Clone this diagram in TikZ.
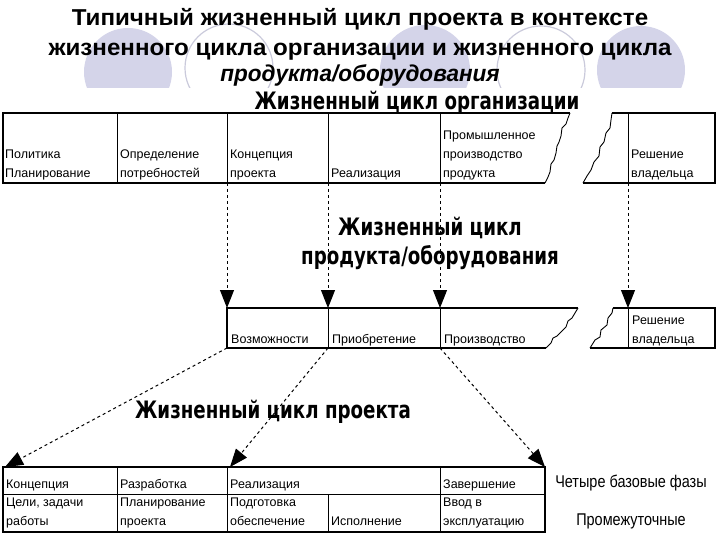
\documentclass[tikz,border=0pt]{standalone}
\usepackage{fontspec}
\setmainfont{Liberation Sans}
\newfontfamily\heavyfont{DejaVu Sans}
\usepackage{graphicx}
\usetikzlibrary{arrows.meta}

\definecolor{lavfill}{HTML}{D4D4E9}
\definecolor{lavline}{HTML}{CACADB}

\newcommand{\narrowtxt}[2][0.8]{\scalebox{#1}[1]{#2}}

\tikzset{
  title/.style={anchor=base, inner sep=0pt, font=\fontsize{23}{26}\bfseries\selectfont},
  hdr/.style={anchor=base, inner sep=0pt, font=\heavyfont\fontsize{24}{28}\bfseries\selectfont},
  cell/.style={anchor=base west, inner sep=0pt, font=\fontsize{12.5}{15}\selectfont},
  note/.style={anchor=base, inner sep=0pt, font=\fontsize{17}{20}\selectfont},
  tabline/.style={line width=1.6pt},
  tabdiv/.style={line width=0.9pt},
  link/.style={dash pattern=on 3pt off 3pt, line width=1pt, -{Triangle[length=18pt,width=14pt]}},
}

\begin{document}
\begin{tikzpicture}[x=1pt,y=-1pt]
	\useasboundingbox (0,0) rectangle (720,540);

	% Circles behind the title, cut where the figure starts
	\begin{scope}
		\clip (0,0) rectangle (720,88);
		\fill[lavfill] (128,72) circle (44);
		\fill[lavfill] (425,70) circle (45);
		\fill[lavfill] (641,70) circle (44);
		\draw[lavline, line width=1.2pt] (229,68) circle (44);
		\draw[lavline, line width=1.2pt] (541,70) circle (44);
	\end{scope}

	% Title
	\node[title] (t1) at (360,26) {\narrowtxt[1.05]{Типичный жизненный цикл проекта в контексте}};
	\node[title] (t2) at (360,56) {\narrowtxt[1.05]{жизненного цикла организации и жизненного цикла}};
	\node[title] (t3) at (360,82) {\narrowtxt[0.98]{\itshape продукта/оборудования}};

	% Organisation life cycle
	\node[hdr] (horg) at (417,110) {\narrowtxt[0.76]{Жизненный цикл организации}};

	\draw[tabline] (570,113) -- (3,113) -- (3,183) -- (545,183);
	\draw[tabdiv] (570,113) -- (568,118) -- (566,124) -- (562,128) -- (561,136) -- (559,142) -- (557,146)
		-- (556,153) -- (554,160) -- (551,164) -- (550,172) -- (548,177) -- (545,183);
	\foreach \x in {117,227,328,440}
		\draw[tabdiv] (\x,113) -- (\x,183);
	\draw[tabline] (612,113) -- (715,113) -- (715,183) -- (583,183);
	\draw[tabdiv] (612,113) -- (611,120) -- (610,128) -- (606,133) -- (604,142) -- (600,147) -- (599,156)
		-- (594,162) -- (591,170) -- (587,176) -- (583,183);
	\draw[tabdiv] (628,113) -- (628,183);

	\node[cell] (o1a) at (5,159) {Политика};
	\node[cell] (o1b) at (5,178) {Планирование};
	\node[cell] (o2a) at (120,159) {Определение};
	\node[cell] (o2b) at (120,178) {потребностей};
	\node[cell] (o3a) at (230,159) {Концепция};
	\node[cell] (o3b) at (230,178) {проекта};
	\node[cell] (o4) at (331,178) {Реализация};
	\node[cell] (o5a) at (443,140) {Промышленное};
	\node[cell] (o5b) at (443,159) {производство};
	\node[cell] (o5c) at (443,178) {продукта};
	\node[cell] (o6a) at (631,159) {Решение};
	\node[cell] (o6b) at (631,178) {владельца};

	% Product life cycle
	\node[hdr] (hprod1) at (430,236) {\narrowtxt[0.76]{Жизненный цикл}};
	\node[hdr] (hprod2) at (430,264) {\narrowtxt[0.76]{продукта/оборудования}};

	\draw[tabline] (578,308) -- (227,308) -- (227,348) -- (546,348);
	\draw[tabdiv] (578,308) -- (575,313) -- (572,318) -- (568,321) -- (566,327) -- (562,331) -- (557,336)
		-- (553,338) -- (551,343) -- (546,348);
	\foreach \x in {328,440}
		\draw[tabdiv] (\x,308) -- (\x,348);
	\draw[tabline] (613,308) -- (715,308) -- (715,348) -- (590,348);
	\draw[tabdiv] (613,308) -- (612,313) -- (608,318) -- (607,325) -- (601,330) -- (600,337) -- (595,340) -- (590,348);
	\draw[tabdiv] (628,308) -- (628,348);

	\node[cell] (p1) at (231,343) {Возможности};
	\node[cell] (p2) at (332,343) {Приобретение};
	\node[cell] (p3) at (444,343) {Производство};
	\node[cell] (p4a) at (632,324) {Решение};
	\node[cell] (p4b) at (632,343) {владельца};

	% Link points between the tables
	\coordinate (oA) at (227,183);
	\coordinate (oB) at (328,183);
	\coordinate (oC) at (440,183);
	\coordinate (oD) at (628,183);
	\coordinate (pA) at (227,308);
	\coordinate (pB) at (328,308);
	\coordinate (pC) at (440,308);
	\coordinate (pD) at (628,308);
	\coordinate (pA2) at (227,348);
	\coordinate (pB2) at (328,348);
	\coordinate (pC2) at (440,348);
	\coordinate (qA) at (5,467);
	\coordinate (qB) at (230,467);
	\coordinate (qC) at (545,467);

	\foreach \s in {A,B,C,D}
		\draw[link] (o\s) -- (p\s);
	\foreach \s in {A,B,C}
		\draw[link] (p\s2) -- (q\s);

	% Project life cycle
	\node[hdr] (hproj) at (273,418) {\narrowtxt[0.76]{Жизненный цикл проекта}};

	\draw[tabline] (3,467) rectangle (545,532);
	\draw[tabdiv] (3,494) -- (545,494);
	\foreach \x in {117,227,440}
		\draw[tabdiv] (\x,467) -- (\x,532);
	\draw[tabdiv] (328,494) -- (328,532);

	\node[cell] (r1) at (6,488) {Концепция};
	\node[cell] (r2) at (120,488) {Разработка};
	\node[cell] (r3) at (230,488) {Реализация};
	\node[cell] (r4) at (443,488) {Завершение};
	\node[cell] (s1a) at (6,506) {Цели, задачи};
	\node[cell] (s1b) at (6,525) {работы};
	\node[cell] (s2a) at (120,506) {Планирование};
	\node[cell] (s2b) at (120,525) {проекта};
	\node[cell] (s3a) at (230,506) {Подготовка};
	\node[cell] (s3b) at (230,525) {обеспечение};
	\node[cell] (s4) at (331,525) {Исполнение};
	\node[cell] (s5a) at (443,506) {Ввод в};
	\node[cell] (s5b) at (443,525) {эксплуатацию};

	\node[note] (n1) at (631,487) {\narrowtxt[0.85]{Четыре базовые фазы}};
	\node[note] (n2) at (631,525) {\narrowtxt[0.85]{Промежуточные}};
\end{tikzpicture}
\end{document}
